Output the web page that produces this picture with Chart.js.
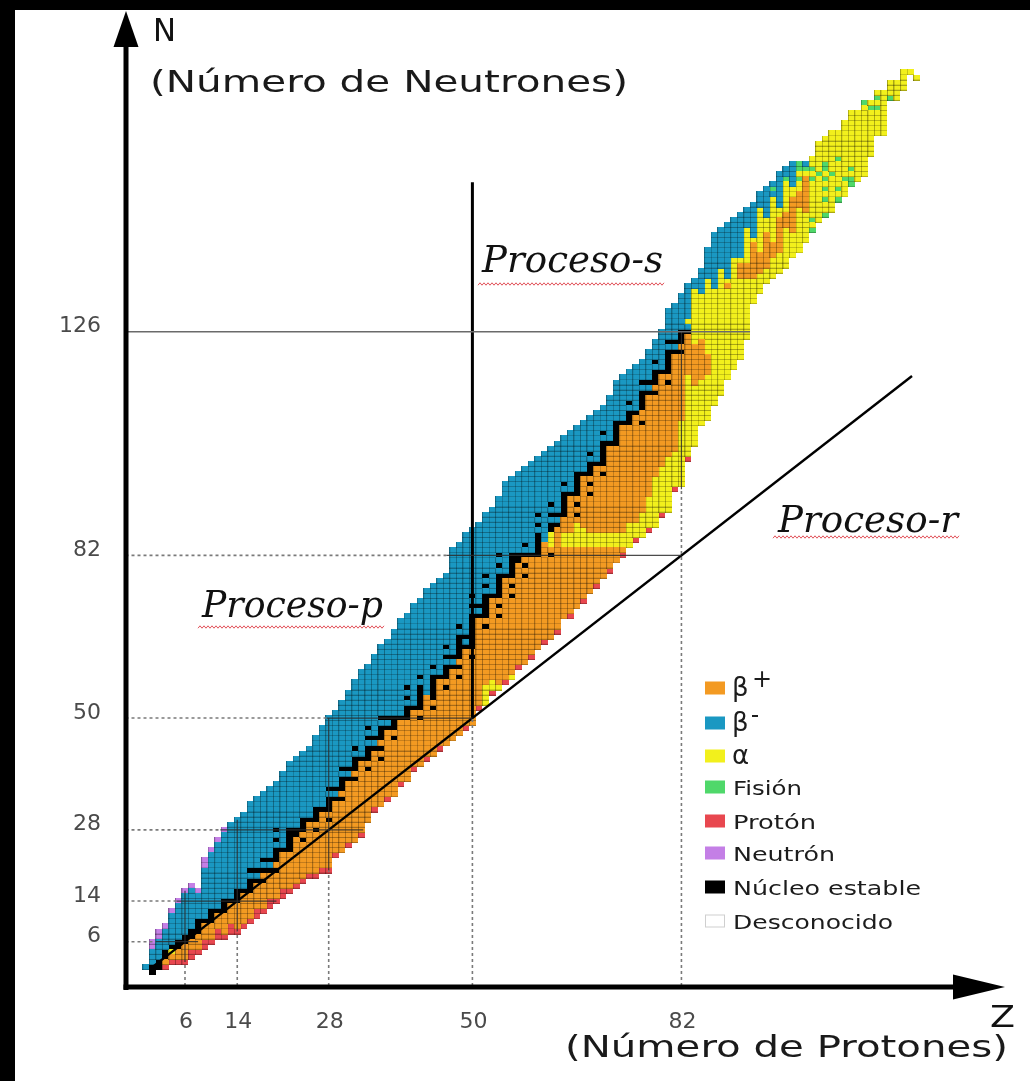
<!DOCTYPE html>
<html lang="es">
<head>
  <meta charset="UTF-8">
  <title>Carta de núclidos</title>
  <script src="https://cdn.jsdelivr.net/npm/chart.js"></script>
  <style>
    html, body { margin: 0; padding: 0; background: #000; }
    #nuclidos { display: block; }
  </style>
</head>
<body>
  <canvas id="nuclidos" width="1030" height="1081"></canvas>

  <script>
    // Todas las tablas van indexadas por Z (0 = neutrón libre ... 118)

    // N del isótopo más ligero conocido
    const nMin = [
      1, 0, 1, 1, 2, 2, 2, 3, 4, 5,
      6, 7, 7, 8, 8, 9, 10, 11, 12, 13,
      14, 15, 16, 17, 18, 19, 19, 20, 20, 23,
      24, 25, 26, 27, 30, 32, 33, 34, 35, 37,
      38, 40, 41, 42, 43, 44, 45, 46, 47, 48,
      49, 52, 53, 55, 56, 57, 58, 60, 61, 62,
      64, 65, 66, 67, 70, 70, 72, 73, 75, 76,
      78, 79, 81, 82, 84, 85, 86, 87, 88, 90,
      91, 95, 96, 101, 104, 108, 109, 112, 114, 117,
      119, 121, 125, 132, 134, 136, 137, 138, 139, 141,
      142, 144, 146, 148, 149, 150, 152, 153, 155, 156,
      157, 161, 165, 165, 172, 172, 174, 177, 176
    ];

    // N del isótopo más pesado conocido
    const nMax = [
      1, 6, 8, 9, 12, 14, 16, 17, 16, 22,
      24, 26, 28, 29, 30, 31, 33, 34, 35, 36,
      37, 39, 41, 42, 43, 44, 46, 48, 50, 51,
      53, 55, 57, 59, 60, 62, 64, 65, 67, 69,
      70, 72, 73, 75, 76, 77, 78, 83, 84, 86,
      87, 88, 90, 91, 93, 96, 97, 98, 99, 100,
      101, 102, 103, 104, 105, 106, 107, 108, 109, 110,
      111, 113, 116, 117, 118, 119, 120, 122, 124, 126,
      130, 131, 133, 135, 136, 138, 142, 145, 146, 147,
      148, 149, 150, 151, 153, 154, 155, 157, 158, 159,
      159, 159, 160, 163, 164, 165, 165, 167, 169, 169,
      171, 171, 173, 173, 175, 175, 177, 177, 176
    ];

    // N de los núcleos estables
    const estables = [
      [], [0, 1], [1, 2], [3, 4], [5], [5, 6], [6, 7], [7, 8], [8, 9, 10], [10],
      [10, 11, 12], [12], [12, 13, 14], [14], [14, 15, 16], [16], [16, 17, 18, 20], [18, 20], [18, 20, 22], [20, 22],
      [20, 22, 23, 24, 26, 28], [24], [24, 25, 26, 27, 28], [27, 28], [26, 28, 29, 30], [30], [28, 30, 31, 32], [32], [30, 32, 33, 34, 36], [34, 36],
      [34, 36, 37, 38, 40], [38, 40], [38, 40, 41, 42, 44], [42], [40, 42, 43, 44, 46, 48], [44, 46], [42, 44, 46, 47, 48, 50], [48, 50], [46, 48, 49, 50], [50],
      [50, 51, 52, 54, 56], [52], [50, 52, 53, 54, 55, 56, 58], [], [52, 54, 55, 56, 57, 58, 60], [58], [56, 58, 59, 60, 62, 64], [60, 62], [58, 60, 62, 63, 64, 65, 66, 68], [64, 66],
      [62, 64, 65, 66, 67, 68, 69, 70, 72, 74], [70, 72], [68, 70, 71, 72, 73, 74, 76, 78], [74], [70, 72, 74, 75, 76, 77, 78, 80, 82], [78], [74, 76, 78, 79, 80, 81, 82], [81, 82], [78, 80, 82, 84], [82],
      [82, 83, 84, 85, 86, 88, 90], [], [82, 87, 88, 90, 92], [88, 90], [90, 91, 92, 93, 94, 96], [94], [90, 92, 94, 95, 96, 97, 98], [98], [94, 96, 98, 99, 100, 102], [100],
      [98, 100, 101, 102, 103, 104, 106], [104], [104, 105, 106, 107, 108], [108], [108, 109, 110, 112], [110], [108, 111, 112, 113, 114, 116], [114, 116], [114, 116, 117, 118, 120], [118],
      [116, 118, 119, 120, 121, 122, 124], [122, 124], [122, 124, 125, 126], [126], [], [], [], [], [], [],
      [], [], [], [], [], [], [], [], [], [],
      [], [], [], [], [], [], [], [], [], [],
      [], [], [], [], [], [], [], [], []
    ];

    // primer N que decae por β- (null: ninguno)
    const betaMenosDesde = [
      1, 2, 3, 5, 6, 7, 8, 9, 11, 11,
      13, 13, 15, 15, 17, 17, 19, 19, 21, 21,
      25, 25, 29, 29, 31, 31, 33, 33, 35, 35,
      39, 39, 43, 43, 45, 45, 49, 49, 51, 51,
      53, 53, 57, 55, 59, 59, 61, 61, 67, 65,
      71, 71, 75, 75, 79, 79, 83, 83, 83, 83,
      87, 85, 89, 89, 95, 95, 99, 99, 101, 101,
      105, 105, 109, 109, 111, 111, 115, 115, 119, 119,
      123, 123, 127, 127, 135, 134, 137, 135, 139, 137,
      141, 141, 147, 145, 151, 149, 153, 151, 156, 155,
      158, 158, null, null, null, null, null, null, null, null,
      null, null, null, null, null, null, null, null, null
    ];

    // celdas del borde pobre en neutrones que emiten protones
    const protonBorde = [
      0, 0, 0, 1, 1, 1, 1, 2, 1, 2,
      1, 2, 1, 2, 1, 1, 1, 2, 1, 2,
      1, 2, 1, 1, 1, 1, 1, 1, 1, 1,
      0, 1, 0, 1, 0, 1, 0, 1, 0, 1,
      0, 1, 0, 1, 0, 1, 0, 0, 0, 1,
      0, 1, 0, 1, 0, 1, 0, 1, 0, 1,
      0, 1, 0, 1, 0, 1, 0, 1, 0, 1,
      0, 1, 0, 1, 0, 1, 0, 1, 0, 1,
      0, 1, 0, 1, 0, 0, 0, 0, 0, 0,
      0, 0, 0, 0, 0, 0, 0, 0, 0, 0,
      0, 0, 0, 0, 0, 0, 0, 0, 0, 0,
      0, 0, 0, 0, 0, 0, 0, 0, 0
    ];

    // celdas del borde rico en neutrones que emiten neutrones
    const neutronBorde = [
      0, 2, 2, 1, 1, 1, 1, 1, 1, 2,
      1, 1, 1, 0, 0, 0, 0, 0, 0, 0
    ];

    // tramos alfa: [Z, N desde, N hasta]
    const alfaTramos = [
      [4, 4, 4],
      [52, 53, 56], [53, 55, 57], [54, 55, 56], [56, 58, 58],
      [62, 84, 86], [64, 84, 86], [65, 84, 86], [66, 84, 88], [67, 84, 87], [68, 84, 86],
      [69, 84, 86], [70, 84, 86], [71, 84, 86], [72, 84, 86], [73, 84, 86], [74, 84, 88],
      [75, 85, 88], [76, 86, 90], [77, 88, 93], [78, 88, 97], [79, 91, 99], [80, 91, 101],
      [81, 96, 102], [82, 96, 108], [83, 101, 117], [83, 128, 128],
      [84, 104, 115], [84, 124, 134], [85, 108, 116], [85, 125, 133],
      [86, 109, 117], [86, 122, 136], [87, 112, 134], [88, 114, 138],
      [89, 117, 134], [89, 136, 136], [90, 119, 140], [91, 121, 136], [91, 140, 140],
      [92, 125, 136], [92, 140, 146], [93, 132, 136], [93, 144, 144],
      [94, 134, 137], [94, 142, 150], [95, 136, 138], [95, 146, 148],
      [96, 137, 140], [96, 144, 152], [97, 138, 141], [97, 149, 150],
      [98, 139, 146], [98, 150, 155], [99, 141, 145], [99, 153, 154],
      [100, 142, 150], [100, 154, 157], [101, 144, 149], [101, 157, 157],
      [102, 146, 160], [103, 148, 163], [104, 149, 164], [105, 150, 165], [106, 152, 165],
      [107, 153, 167], [108, 155, 169], [109, 156, 169], [110, 157, 171], [111, 161, 171],
      [112, 165, 173], [113, 165, 173], [114, 172, 175], [115, 172, 175], [116, 174, 177],
      [117, 177, 177], [118, 176, 176]
    ];

    // fisión espontánea: [Z, N]
    const fisionCeldas = [
      [96, 154], [98, 156], [100, 156], [100, 158], [100, 159], [101, 158],
      [102, 146], [102, 148], [102, 156], [102, 158], [103, 157],
      [104, 149], [104, 152], [104, 154], [104, 156], [104, 158], [104, 159],
      [105, 157], [106, 152], [106, 154], [106, 160], [107, 156],
      [108, 155], [108, 156], [108, 158], [110, 171], [111, 170],
      [112, 170], [112, 172], [114, 172]
    ];

    const ticksZ = [6, 14, 28, 50, 82];
    const ticksN = [6, 14, 28, 50, 82, 126];

    // líneas de números mágicos: [valor, inicio del tramo continuo, fin]
    const guiaN = [[6, 1.5, 8], [14, 4.7, 20], [28, 11.4, 33.3], [50, 27.7, 50], [82, 46, 82], [126, -3.1, 92.5]];
    const guiaZ = [[6, 2, 16], [14, 8, 30], [28, 20, 50], [82, 95, 126]];

    const X_MIN = -3.108, X_MAX = 130.77;
    const Y_MIN = -2.715, Y_MAX = 188.31;

    const colores = {
      betaMas: '#f39a22',
      betaMenos: '#1a98c2',
      alfa: '#f2f01c',
      fision: '#4fd86a',
      proton: '#e8474f',
      neutron: '#c47fe6',
      estable: '#000000'
    };

    const leyenda = [
      ['betaMas', 'β', '+'],
      ['betaMenos', 'β', '-'],
      ['alfa', 'α', ''],
      ['fision', 'Fisión', ''],
      ['proton', 'Protón', ''],
      ['neutron', 'Neutrón', ''],
      ['estable', 'Núcleo estable', ''],
      [null, 'Desconocido', '']
    ];

    function modo(z, n) {
      if (estables[z].includes(n)) return 'estable';
      if (fisionCeldas.some(c => c[0] === z && c[1] === n)) return 'fision';
      if (n < nMin[z] + protonBorde[z]) return 'proton';
      if (n > nMax[z] - (neutronBorde[z] || 0)) return 'neutron';
      if (alfaTramos.some(t => t[0] === z && n >= t[1] && n <= t[2])) return 'alfa';
      if (betaMenosDesde[z] !== null && n >= betaMenosDesde[z]) return 'betaMenos';
      return 'betaMas';
    }

    // cuadrito de la carta con la retícula oscura a la izquierda y abajo
    function celda(color, malla) {
      const c = document.createElement('canvas');
      c.width = 7; c.height = 6;
      const g = c.getContext('2d');
      g.fillStyle = color;
      g.fillRect(0, 0, 7, 6);
      if (malla) {
        g.fillStyle = 'rgba(0,0,0,0.3)';
        g.fillRect(0, 0, 1, 6);
        g.fillRect(0, 5, 7, 1);
      }
      return c;
    }

    const puntos = {};
    Object.keys(colores).forEach(k => { puntos[k] = []; });
    for (let z = 0; z < nMin.length; z++) {
      for (let n = nMin[z]; n <= nMax[z]; n++) {
        puntos[modo(z, n)].push({ x: z, y: n });
      }
    }

    const datasets = [];

    Object.keys(colores).forEach(k => {
      datasets.push({
        type: 'scatter',
        label: k,
        data: puntos[k],
        pointStyle: celda(colores[k], k !== 'estable'),
        pointRadius: 3,
        pointHoverRadius: 3,
        showLine: false,
        order: 2
      });
    });

    function linea(p0, p1, color, ancho, dash) {
      datasets.push({
        type: 'line',
        data: [p0, p1],
        borderColor: color,
        borderWidth: ancho,
        borderDash: dash || [],
        pointRadius: 0,
        fill: false,
        tension: 0,
        order: 1
      });
    }

    const punteado = '#7a7a7a';
    const continuo = 'rgba(45,45,45,0.85)';

    guiaN.forEach(([n, z0, z1]) => {
      if (z0 > X_MIN + 0.1) linea({ x: X_MIN, y: n }, { x: z0, y: n }, punteado, 1.6, [3, 3]);
      linea({ x: z0, y: n }, { x: z1, y: n }, n === 126 ? '#6a6a6a' : continuo, n === 126 ? 1.6 : 1.2);
    });
    guiaZ.forEach(([z, n0, n1]) => {
      linea({ x: z, y: Y_MIN }, { x: z, y: n0 }, punteado, 1.6, [3, 3]);
      linea({ x: z, y: n0 }, { x: z, y: n1 }, continuo, 1.2);
    });
    // Z = 50: punteado hasta N = 50 y luego la línea del proceso s
    linea({ x: 50, y: Y_MIN }, { x: 50, y: 50 }, punteado, 1.6, [3, 3]);
    linea({ x: 50, y: 50 }, { x: 50, y: 155.4 }, '#000', 3);
    // N = Z
    linea({ x: 1, y: 1 }, { x: 117.3, y: 117.3 }, '#000', 2.4);

    // texto estirado a un ancho dado
    function texto(ctx, t, x, y, ancho, font, color) {
      ctx.save();
      ctx.font = font;
      const w = ctx.measureText(t).width;
      ctx.translate(x, y);
      ctx.scale(ancho / w, 1);
      ctx.fillStyle = color;
      ctx.textAlign = 'left';
      ctx.textBaseline = 'alphabetic';
      ctx.fillText(t, 0, 0);
      ctx.restore();
    }

    function onda(ctx, x0, x1, y) {
      ctx.save();
      ctx.strokeStyle = '#e2525a';
      ctx.lineWidth = 1;
      ctx.beginPath();
      let arriba = true;
      ctx.moveTo(x0, y + 1.2);
      for (let x = x0 + 2; x <= x1; x += 2) {
        ctx.lineTo(x, arriba ? y - 1.2 : y + 1.2);
        arriba = !arriba;
      }
      ctx.stroke();
      ctx.restore();
    }

    const fondo = {
      id: 'fondo',
      beforeDraw(chart) {
        const ctx = chart.ctx;
        ctx.save();
        ctx.fillStyle = '#000';
        ctx.fillRect(0, 0, chart.width, chart.height);
        ctx.fillStyle = '#fff';
        ctx.fillRect(15, 10, chart.width - 15, chart.height - 10);
        ctx.restore();
      }
    };

    const decorado = {
      id: 'decorado',
      afterDraw(chart) {
        const ctx = chart.ctx;
        const sx = chart.scales.x, sy = chart.scales.y;
        ctx.save();

        // ejes con flecha
        ctx.fillStyle = '#000';
        ctx.fillRect(123.5, 36, 5, 954);
        ctx.fillRect(123.5, 984.5, 840, 5);
        ctx.beginPath();
        ctx.moveTo(126, 11); ctx.lineTo(113.5, 47); ctx.lineTo(138.5, 47); ctx.closePath();
        ctx.fill();
        ctx.beginPath();
        ctx.moveTo(1005, 987); ctx.lineTo(953, 974.5); ctx.lineTo(953, 999.5); ctx.closePath();
        ctx.fill();

        // etiquetas de los ejes
        ctx.font = '22px "DejaVu Sans"';
        ctx.fillStyle = '#4a4a4a';
        ctx.textAlign = 'right';
        ctx.textBaseline = 'alphabetic';
        ticksN.forEach(n => ctx.fillText(String(n), 101, sy.getPixelForValue(n) + 0.5));
        ctx.textAlign = 'center';
        ticksZ.forEach(z => ctx.fillText(String(z), sx.getPixelForValue(z) + 1, 1028));

        texto(ctx, 'N', 153, 41, 23, '32px "DejaVu Sans"', '#111');
        texto(ctx, '(Número de Neutrones)', 150, 92, 478, '30px "DejaVu Sans"', '#1a1a1a');
        texto(ctx, 'Z', 990, 1027, 25, '30px "DejaVu Sans"', '#111');
        texto(ctx, '(Número de Protones)', 565, 1057, 443, '30px "DejaVu Sans"', '#1a1a1a');

        // procesos
        texto(ctx, 'Proceso-s', 482, 271.5, 181, 'italic 38px "DejaVu Serif"', '#111');
        onda(ctx, 478, 665, 284);
        texto(ctx, 'Proceso-p', 202, 617, 181, 'italic 38px "DejaVu Serif"', '#111');
        onda(ctx, 198, 385, 627);
        texto(ctx, 'Proceso-r', 778, 531.5, 180, 'italic 38px "DejaVu Serif"', '#111');
        onda(ctx, 773, 960, 537);

        // leyenda
        const filas = [688, 723, 756, 787, 821, 853, 887, 921];
        const anchos = [0, 0, 0, 69, 83, 102, 188, 160];
        leyenda.forEach(([clave, t, sup], i) => {
          const y = filas[i];
          if (clave) {
            ctx.fillStyle = colores[clave];
            ctx.fillRect(705, y - 6.5, 20, 13);
          } else {
            ctx.fillStyle = '#fff';
            ctx.fillRect(705, y - 6.5, 20, 13);
            ctx.strokeStyle = '#cfcfcf';
            ctx.lineWidth = 1;
            ctx.strokeRect(705.5, y - 6, 19, 12);
          }
          ctx.fillStyle = '#1c1c1c';
          ctx.textAlign = 'left';
          if (anchos[i]) {
            texto(ctx, t, 733, y + 7.5, anchos[i], '20px "DejaVu Sans"', '#1c1c1c');
          } else {
            ctx.font = '26px "DejaVu Sans"';
            ctx.fillText(t, 732, y + 8);
            if (sup === '+') {
              ctx.font = '24px "DejaVu Sans"';
              ctx.fillText(sup, 752, y - 1);
            } else if (sup) {
              ctx.fillRect(752, y - 8, 6, 2);
            }
          }
        });

        ctx.restore();
      }
    };

    new Chart(document.getElementById('nuclidos').getContext('2d'), {
      type: 'scatter',
      data: { datasets: datasets },
      options: {
        responsive: false,
        animation: false,
        events: [],
        layout: { padding: { left: 125.5, top: 15, right: 30, bottom: 95 } },
        scales: {
          x: { type: 'linear', display: false, min: X_MIN, max: X_MAX },
          y: { type: 'linear', display: false, min: Y_MIN, max: Y_MAX }
        },
        plugins: {
          legend: { display: false },
          tooltip: { enabled: false }
        }
      },
      plugins: [fondo, decorado]
    });
  </script>
</body>
</html>
